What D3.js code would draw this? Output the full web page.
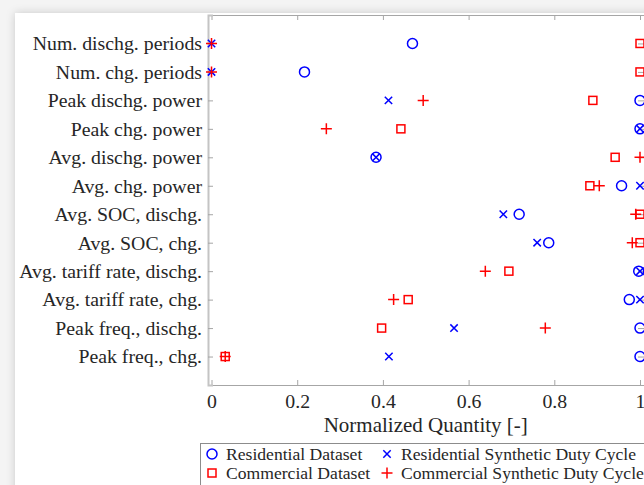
<!DOCTYPE html>
<html>
<head>
<meta charset="utf-8">
<script src="https://cdn.jsdelivr.net/npm/d3@7"></script>
<style>
  html, body { margin: 0; padding: 0; background: #f4f4f4; }
  svg { display: block; }
</style>
</head>
<body>
<div id="chart"></div>
<script>
// row labels, top to bottom
const categories = [
  'Num. dischg. periods',
  'Num. chg. periods',
  'Peak dischg. power',
  'Peak chg. power',
  'Avg. dischg. power',
  'Avg. chg. power',
  'Avg. SOC, dischg.',
  'Avg. SOC, chg.',
  'Avg. tariff rate, dischg.',
  'Avg. tariff rate, chg.',
  'Peak freq., dischg.',
  'Peak freq., chg.',
];
const resDataset = [0.469, 0.217, 1, 1, 0.384, 0.957, 0.718, 0.787, 0.997, 0.975, 1, 1];
const resSynthetic = [0, 0, 0.413, 1, 0.384, 1, 0.681, 0.76, 1, 1, 0.566, 0.414];
const comDataset = [1, 1, 0.89, 0.442, 0.942, 0.883, 1, 1, 0.694, 0.459, 0.397, 0.032];
const comSynthetic = [0, 0, 0.494, 0.268, 1, 0.905, 0.99, 0.982, 0.639, 0.425, 0.779, 0.032];
const xTicks = [0, 0.2, 0.4, 0.6, 0.8, 1];

const width = 644;
const height = 485;
const font = '"Liberation Serif", "Times New Roman", serif';
const blue = '#0000ff';
const red = '#ff0000';
const axisGray = '#a6a6a6';
const textColor = '#262626';

const svg = d3
  .select('#chart')
  .append('svg')
  .attr('width', width)
  .attr('height', height);

// soft page shadow behind the white figure
const defs = svg.append('defs');
const shadow = defs.append('filter').attr('id', 'shadow')
  .attr('x', '-10%').attr('y', '-10%').attr('width', '130%').attr('height', '130%');
shadow.append('feDropShadow')
  .attr('dx', 0).attr('dy', 0).attr('stdDeviation', 4)
  .attr('flood-color', '#000').attr('flood-opacity', 0.18);

svg.append('rect').attr('width', width).attr('height', height).attr('fill', '#f4f4f4');
svg.append('rect')
  .attr('x', 15).attr('y', 13)
  .attr('width', 700).attr('height', 520)
  .attr('fill', '#fff')
  .attr('filter', 'url(#shadow)');

const x = d3.scaleLinear().domain([-0.0082, 1.014]).range([208, 646]);
const y = d3.scaleLinear().domain([0, 13]).range([15, 385]);
const rows = categories.map((c, i) => i + 1);

// axes box
const axes = svg.append('g');

axes.append('g')
  .attr('transform', `translate(0,${y(13)})`)
  .call(d3.axisBottom(x).tickValues(xTicks).tickSize(-5).tickPadding(10)
    .tickFormat((d) => d3.format('~g')(d)))
  .call((g) => g.select('.domain').attr('stroke', axisGray))
  .call((g) => g.selectAll('.tick line').attr('stroke', axisGray))
  .call((g) => g.selectAll('.tick text')
    .attr('fill', textColor).attr('font-size', 19.8).attr('font-family', font)
    .attr('dy', '0.71em').attr('y', 9));

axes.append('g')
  .attr('transform', `translate(0,${y(0)})`)
  .call(d3.axisTop(x).tickValues(xTicks).tickSize(-5).tickFormat(''))
  .call((g) => g.select('.domain').attr('stroke', axisGray))
  .call((g) => g.selectAll('.tick line').attr('stroke', axisGray));

axes.append('g')
  .attr('transform', `translate(${x.range()[0]},0)`)
  .call(d3.axisLeft(y).tickValues(rows).tickSize(-5).tickPadding(6)
    .tickFormat((d) => categories[d - 1]))
  .call((g) => g.select('.domain').attr('stroke', '#c4c4c4').attr('stroke-width', 2))
  .call((g) => g.selectAll('.tick line').attr('stroke', axisGray))
  .call((g) => g.selectAll('.tick text')
    .attr('fill', textColor).attr('font-size', 19.8).attr('font-family', font)
    .attr('x', -6));

axes.append('g')
  .attr('transform', `translate(${x.range()[1]},0)`)
  .call(d3.axisRight(y).tickValues(rows).tickSize(-8).tickFormat(''))
  .call((g) => g.select('.domain').attr('stroke', axisGray))
  .call((g) => g.selectAll('.tick line').attr('stroke', axisGray));

svg.append('text')
  .attr('x', (x(0) + x(1)) / 2)
  .attr('y', 432)
  .attr('text-anchor', 'middle')
  .attr('font-family', font)
  .attr('font-size', 21)
  .attr('fill', textColor)
  .text('Normalized Quantity [-]');

// marker shapes
function drawMarker(g, type, color) {
  g.attr('fill', 'none').attr('stroke', color).attr('stroke-width', 1.5);
  if (type === 'circle') {
    g.append('circle').attr('r', 5);
  } else if (type === 'cross') {
    g.append('path').attr('d', 'M-3.7,-3.7L3.7,3.7M-3.7,3.7L3.7,-3.7');
  } else if (type === 'square') {
    g.append('rect').attr('x', -4).attr('y', -4).attr('width', 8).attr('height', 8);
  } else {
    g.append('path').attr('d', 'M-5.5,0H5.5M0,-5.5V5.5');
  }
}

const series = [
  { name: 'Residential Dataset', values: resDataset, type: 'circle', color: blue },
  { name: 'Residential Synthetic Duty Cycle', values: resSynthetic, type: 'cross', color: blue },
  { name: 'Commercial Dataset', values: comDataset, type: 'square', color: red },
  { name: 'Commercial Synthetic Duty Cycle', values: comSynthetic, type: 'plus', color: red },
];

const plot = svg.append('g');
series.forEach((s) => {
  plot.append('g')
    .selectAll('g')
    .data(s.values)
    .join('g')
    .attr('transform', (d, i) => `translate(${x(d)},${y(i + 1)})`)
    .each(function () { drawMarker(d3.select(this), s.type, s.color); });
});

// legend
const legend = svg.append('g');
legend.append('rect')
  .attr('x', 200.5).attr('y', 443.5)
  .attr('width', 460).attr('height', 60)
  .attr('fill', '#fff')
  .attr('stroke', '#8c8c8c');

const legendPos = [
  [212, 454], [387, 454], [212, 473], [387, 473],
];
series.forEach((s, i) => {
  const [lx, ly] = legendPos[i];
  legend.append('g')
    .attr('transform', `translate(${lx},${ly})`)
    .call((g) => drawMarker(g, s.type, s.color));
  legend.append('text')
    .attr('x', lx + 14)
    .attr('y', ly)
    .attr('dy', '0.35em')
    .attr('font-family', font)
    .attr('font-size', 17.6)
    .attr('fill', textColor)
    .text(s.name);
});
</script>
</body>
</html>
